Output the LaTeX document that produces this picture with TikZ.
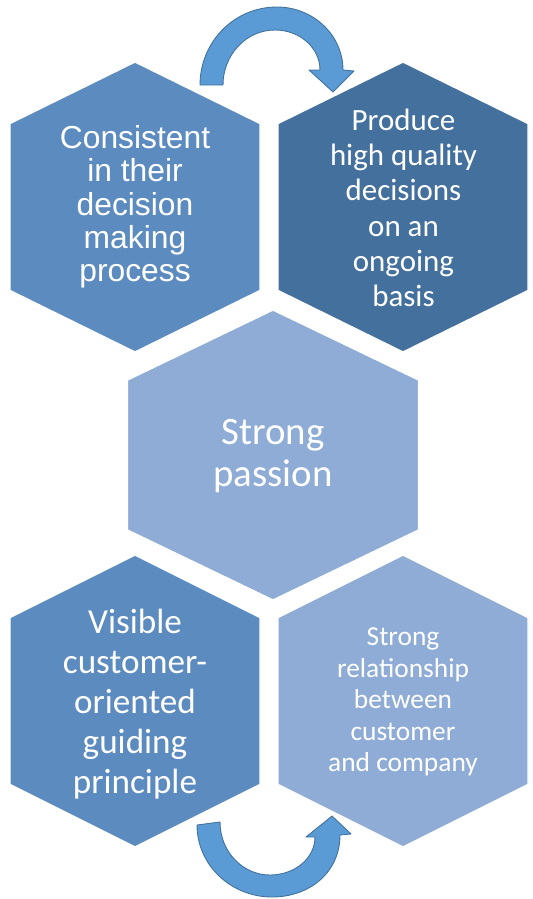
\documentclass[tikz,border=0pt]{standalone}
\usepackage{fontspec}
\setmainfont{Carlito}
\newfontfamily\arialfont{Liberation Sans}
\usepackage{xcolor}

\definecolor{hexmid}{RGB}{92,139,192}
\definecolor{hexdark}{RGB}{68,112,158}
\definecolor{hexlight}{RGB}{142,172,213}
\definecolor{arrowfill}{RGB}{91,155,213}
\definecolor{arrowline}{RGB}{65,113,156}

\tikzset{
  hexagon/.style={draw=white, line width=0.8pt},
  bent/.style={fill=arrowfill, draw=arrowline, line width=0.5pt, line join=round}
}

\begin{document}
\begin{tikzpicture}[x=0.02cm,y=-0.02cm]
\useasboundingbox (0,0) rectangle (532,899);

% hexagons
\path[hexagon, fill=hexmid] (135,62) -- (260,123.5) -- (260,290.5) -- (135,352) -- (10,290.5) -- (10,123.5) -- cycle;
\path[hexagon, fill=hexdark] (403,62) -- (528,123.5) -- (528,290.5) -- (403,352) -- (278,290.5) -- (278,123.5) -- cycle;
\path[hexagon, fill=hexlight] (273,310) -- (418.5,380) -- (418.5,530) -- (273,600) -- (127.5,530) -- (127.5,380) -- cycle;
\path[hexagon, fill=hexmid] (135,555) -- (260,617.5) -- (260,784.5) -- (135,847) -- (10,784.5) -- (10,617.5) -- cycle;
\path[hexagon, fill=hexlight] (403,555) -- (528,617.5) -- (528,784.5) -- (403,847) -- (278,784.5) -- (278,617.5) -- cycle;

% curved arrows
\draw[bent] (200,85) .. controls (200,42) and (234,7) .. (277,7)
  .. controls (313,7) and (343,35) .. (343,70) -- (354,71) -- (333,92) -- (309,70) -- (320,70)
  .. controls (320,48) and (300,30) .. (275,30)
  .. controls (246,30) and (223,55) .. (223,85) -- cycle;
\draw[bent] (197,825) .. controls (197,865) and (231,897) .. (272,897)
  .. controls (310,897) and (340,872) .. (340,835) -- (351,834) -- (332,816) -- (306,837) -- (315,837)
  .. controls (315,858) and (295,875) .. (270,875)
  .. controls (242,875) and (220,851) .. (220,822) -- cycle;

\begin{scope}[every node/.style={text=white, align=center, inner sep=0pt}]
\node (0) [font=\arialfont\fontsize{18.1}{19}\selectfont] at (135,207) {Consistent\\in their\\decision\\making\\process};
\node (1) [font=\fontsize{17.6}{20.1}\selectfont] at (403.5,208) {Produce\\high quality\\decisions\\on an\\ongoing\\basis};
\node (2) [font=\fontsize{22.1}{23.8}\selectfont] at (273,456) {Strong\\passion};
\node (3) [font=\fontsize{20}{22.7}\selectfont] at (135,704) {Visible\\customer-\\oriented\\guiding\\principle};
\node (4) [font=\fontsize{15.6}{17.9}\selectfont] at (403,702) {Strong\\relationship\\between\\customer\\and company};
\end{scope}
\end{tikzpicture}
\end{document}
